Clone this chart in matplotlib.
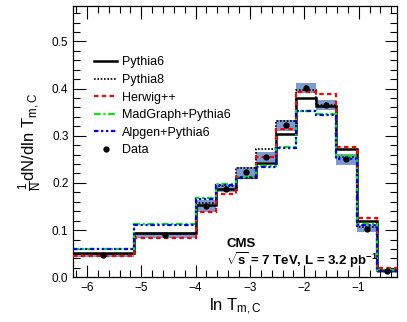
import numpy as np
import matplotlib
matplotlib.use("Agg")
import matplotlib.pyplot as plt
from matplotlib.ticker import MultipleLocator

plt.rcParams["font.family"] = ["Liberation Sans", "DejaVu Sans"]
plt.rcParams["mathtext.fontset"] = "custom"
plt.rcParams["mathtext.rm"] = "Liberation Sans"
plt.rcParams["mathtext.it"] = "Liberation Sans"
plt.rcParams["mathtext.bf"] = "Liberation Sans:bold"

# ---------------------------------------------------------------------------
# data (ln T_m,C distribution)
# ---------------------------------------------------------------------------
bin_edges = [-6.25, -5.14, -4.0, -3.63, -3.26, -2.89, -2.52, -2.15,
             -1.78, -1.41, -1.04, -0.67, -0.30]

data_vals = [0.047, 0.0895, 0.151, 0.188, 0.223, 0.255, 0.322, 0.401,
             0.365, 0.250, 0.103, 0.013]
data_stat = [0.002, 0.002, 0.004, 0.004, 0.005, 0.005, 0.006, 0.007,
             0.006, 0.005, 0.003, 0.001]
data_syst = [0.004, 0.006, 0.012, 0.008, 0.010, 0.010, 0.011, 0.010,
             0.010, 0.011, 0.007, 0.003]

pythia6 = [0.052, 0.094, 0.154, 0.187, 0.212, 0.243, 0.304, 0.380,
           0.362, 0.271, 0.119, 0.015]
pythia8 = [0.050, 0.091, 0.158, 0.194, 0.231, 0.271, 0.331, 0.396,
           0.366, 0.255, 0.106, 0.013]
herwig = [0.045, 0.084, 0.138, 0.177, 0.213, 0.255, 0.315, 0.393,
          0.388, 0.276, 0.125, 0.019]
madgraph = [0.060, 0.112, 0.168, 0.197, 0.213, 0.235, 0.276, 0.352,
            0.346, 0.257, 0.113, 0.015]
alpgen = [0.061, 0.111, 0.166, 0.195, 0.211, 0.233, 0.273, 0.352,
          0.345, 0.251, 0.111, 0.014]

edges = np.array(bin_edges)
centers = 0.5 * (edges[:-1] + edges[1:])
dvals = np.array(data_vals)
syst = np.array(data_syst)

fig = plt.figure(figsize=(4.07, 3.22), dpi=100)
ax = fig.add_axes([73.3 / 407, 1 - 277.3 / 322, 324 / 407, 271.3 / 322])

# systematic band
for i in range(len(dvals)):
    ax.fill_between([edges[i], edges[i + 1]], dvals[i] - syst[i], dvals[i] + syst[i],
                    color="#7090cc", alpha=0.9, linewidth=0, zorder=1)

# MC predictions
ax.stairs(pythia6, edges, baseline=None, color="black", lw=1.8, ls="-",
          label="Pythia6", zorder=3)
ax.stairs(pythia8, edges, baseline=None, color="black", lw=1.2, ls=(0, (1, 1)),
          label="Pythia8", zorder=3)
ax.stairs(herwig, edges, baseline=None, color="#ff0000", lw=1.6, ls=(0, (2, 1.5)),
          label="Herwig++", zorder=3)
ax.stairs(madgraph, edges, baseline=None, color="#00ee00", lw=1.6,
          ls=(0, (3, 1.2, 1, 1.2)), label="MadGraph+Pythia6", zorder=3)
ax.stairs(alpgen, edges, baseline=None, color="#0000ff", lw=1.6,
          ls=(0, (2, 1.2, 1, 1.2, 1, 1.2)), label="Alpgen+Pythia6", zorder=3)

# data points
ax.errorbar(centers, dvals, yerr=data_stat, fmt="none", ecolor="black",
            elinewidth=1.2, capsize=0, zorder=5)
ax.plot(centers, dvals, "o", color="black", ms=3.5, label="Data", zorder=6)

ax.set_xlim(-6.25, -0.29)
ax.set_ylim(0, 0.575)
ax.xaxis.set_major_locator(MultipleLocator(1))
ax.xaxis.set_minor_locator(MultipleLocator(0.2))
ax.yaxis.set_major_locator(MultipleLocator(0.1))
ax.yaxis.set_minor_locator(MultipleLocator(0.02))
ax.yaxis.set_major_formatter(matplotlib.ticker.FormatStrFormatter("%.1f"))
ax.tick_params(which="both", direction="in", top=True, right=True, labelsize=8.5,
               width=0.8)
ax.tick_params(which="major", length=9)
ax.tick_params(which="minor", length=5)
for s in ax.spines.values():
    s.set_linewidth(0.9)

ax.set_xlabel(r"ln T$_{\mathrm{m,C}}$", fontsize=12, labelpad=2)
ax.set_ylabel(r"$\frac{1}{\mathrm{N}}$dN/dln T$_{\mathrm{m,C}}$", fontsize=12,
              labelpad=6)

ax.legend(loc="upper left", bbox_to_anchor=(88 / 407, 1 - 50 / 322),
          bbox_transform=fig.transFigure, frameon=False, fontsize=9,
          handlelength=1.8, handletextpad=0.45, labelspacing=0.45, borderpad=0)

ax.text(0.472, 0.11, "CMS", transform=ax.transAxes, fontsize=9.5, fontweight="bold")
ax.text(0.472, 0.045, r"$\sqrt{\mathbf{s}}$ = 7 TeV, L = 3.2 pb$^{\mathbf{-1}}$",
        transform=ax.transAxes, fontsize=9.5, fontweight="bold")

fig.savefig("out.png", dpi=100)
